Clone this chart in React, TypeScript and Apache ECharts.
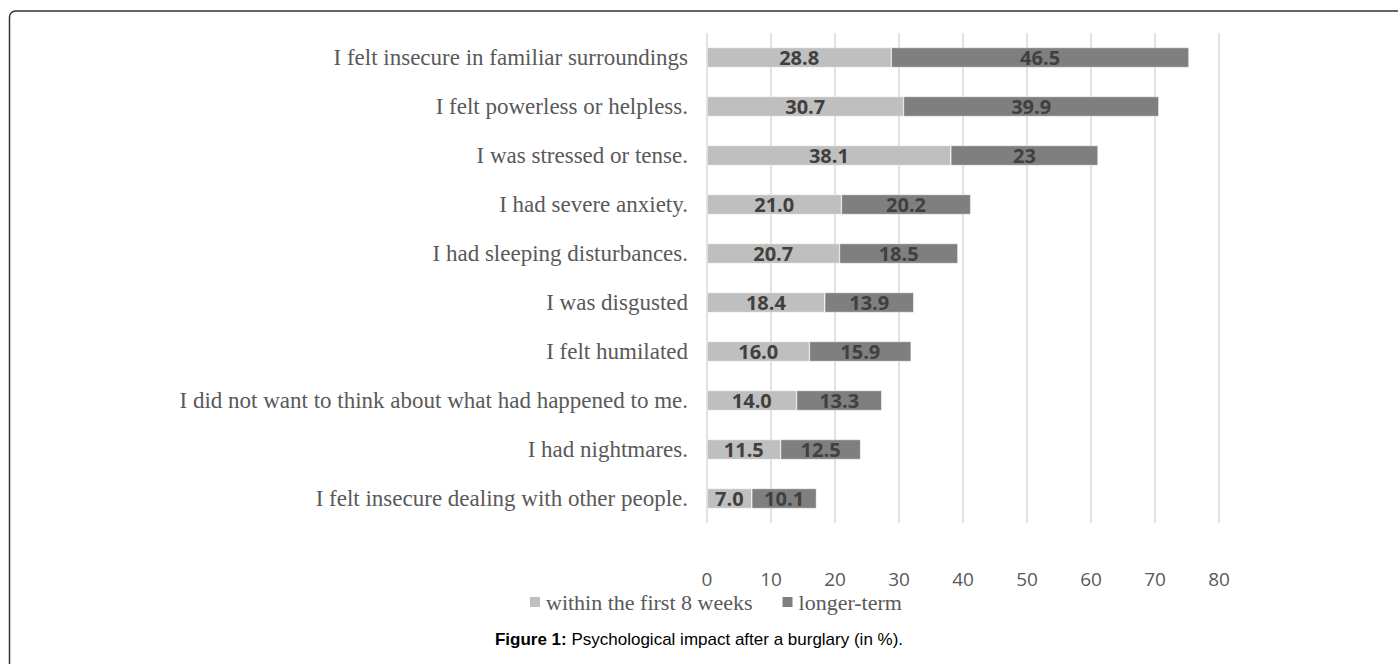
import React, { useEffect, useRef } from "react";
import * as echarts from "echarts";

const categories = [
  "I felt insecure in familiar surroundings",
  "I felt powerless or helpless.",
  "I was stressed or tense.",
  "I had severe anxiety.",
  "I had sleeping disturbances.",
  "I was disgusted",
  "I felt humilated",
  "I did not want to think about what had happened to me.",
  "I had nightmares.",
  "I felt insecure dealing with other people.",
];
const firstWeeks = [28.8, 30.7, 38.1, 21.0, 20.7, 18.4, 16.0, 14.0, 11.5, 7.0];
const longerTerm = [46.5, 39.9, 23, 20.2, 18.5, 13.9, 15.9, 13.3, 12.5, 10.1];
const seriesNames = ["within the first 8 weeks", "longer-term"];
const xTicks = { min: 0, max: 80, interval: 10 };

export default function App() {
  const ref = useRef<HTMLDivElement>(null);
  useEffect(() => {
    document.body.style.margin = "0";
    const chart = echarts.init(ref.current!, null, { renderer: "svg" });
    const labelStyle = {
      show: true,
      position: "inside",
      fontFamily: "Open Sans",
      fontWeight: "bold",
      fontSize: 20,
      color: "#404040",
    };
    chart.setOption({
      animation: false,
      backgroundColor: "#fff",
      grid: { left: 707, right: 179, top: 33, bottom: 141, containLabel: false },
      legend: {
        left: 523,
        top: 586,
        itemWidth: 12,
        itemHeight: 12,
        itemGap: 28,
        icon: "rect",
        textStyle: { fontFamily: "Liberation Serif", fontSize: 22, color: "#595959", padding: [0, 0, 0, 0] },
        data: seriesNames,
      },
      xAxis: {
        type: "value",
        min: xTicks.min,
        max: xTicks.max,
        interval: xTicks.interval,
        axisLine: { show: false },
        axisTick: { show: false },
        splitLine: { show: true, lineStyle: { color: "#d9d9d9", width: 1.5 } },
        axisLabel: { margin: 46, fontFamily: "Open Sans", fontSize: 19, color: "#595959" },
      },
      yAxis: {
        type: "category",
        data: categories,
        inverse: true,
        axisLine: { show: false },
        axisTick: { show: false },
        axisLabel: { margin: 19, fontFamily: "Liberation Serif", fontSize: 23, color: "#595959" },
      },
      series: [
        {
          name: seriesNames[0],
          type: "bar",
          stack: "t",
          barWidth: 20,
          data: firstWeeks,
          itemStyle: { color: "#bfbfbf", borderColor: "#ffffff", borderWidth: 0.5 },
          label: { ...labelStyle, formatter: (p: any) => Number(p.value).toFixed(1) },
        },
        {
          name: seriesNames[1],
          type: "bar",
          stack: "t",
          barWidth: 20,
          data: longerTerm,
          itemStyle: { color: "#7f7f7f", borderColor: "#ffffff", borderWidth: 0.5 },
          label: { ...labelStyle, formatter: (p: any) => String(p.value) },
        },
      ],
      graphic: [
        {
          type: "rect",
          shape: { x: 9.5, y: 11, width: 1600, height: 800, r: [6, 0, 0, 0] },
          style: { fill: "none", stroke: "#333", lineWidth: 1.5 },
          silent: true,
        },
        {
          type: "text",
          left: "center",
          top: 631,
          style: {
            text: "{b|Figure 1:} Psychological impact after a burglary (in %).",
            fontFamily: "Liberation Sans",
            fontSize: 17,
            fill: "#000",
            rich: { b: { fontWeight: "bold", fontFamily: "Liberation Sans", fontSize: 17, fill: "#000" } },
          },
        },
      ],
    });
    return () => chart.dispose();
  }, []);
  return <div ref={ref} style={{ width: 1398, height: 664 }} />;
}
